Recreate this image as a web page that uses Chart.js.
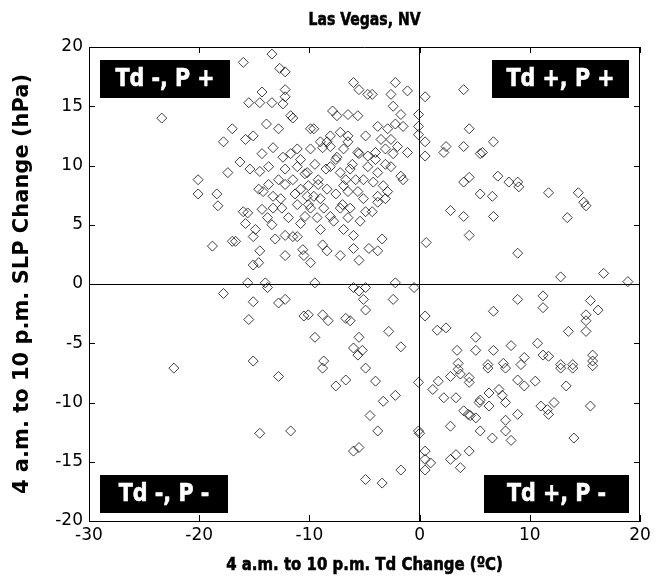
<!DOCTYPE html>
<html>
<head>
<meta charset="utf-8">
<script src="https://cdn.jsdelivr.net/npm/chart.js@4"></script>
<style>
  html, body { margin: 0; padding: 0; background: #fff; }
</style>
</head>
<body>
<canvas id="scatterChart" width="663" height="583"></canvas>
<script>
// 4 a.m. to 10 p.m. changes, Las Vegas NV
const tdChange = [
  -23.4, -17.8, -17.4, -20.1, -20.1, -18.4, -16.0, -13.4, -12.7, -12.2,
  -14.3, -12.2, -15.5, -14.5, -13.4, -12.4, -12.2, -11.7, -11.5, -13.9,
  -12.8, -15.1, -9.9, -9.6, -7.9, -7.5, -6.5, -5.6, -6.0, -5.5,
  -4.7, -11.1, -9.0, -8.1, -7.2, -6.5, -4.9, -8.8, -8.1, -6.9,
  -6.5, -5.6, -4.7, -12.4, -13.7, -14.5, -16.3, -14.2, -13.3, -12.2,
  -11.5, -11.1, -10.2, -10.1, -9.2, -9.6, -8.4, -8.1, -7.5, -7.2,
  -6.3, -5.8, -5.1, -6.5, -5.6, -4.7, -6.9, -10.8, -10.2, -2.2,
  -2.6, -1.1, -2.4, -4.3, -1.7, -3.8, -2.9, -2.2, -1.5, -0.1,
  -0.1, -0.1, -3.5, -2.6, -2.0, -1.1, -2.4, -3.1, -4.0, -4.0,
  -3.1, -2.6, -3.8, -4.2, -3.3, -2.9, -1.7, -1.5, -3.8, -3.1,
  -18.3, -18.8, -17.0, -16.0, -15.6, -13.8, -13.4, -13.3, -12.5, -11.1,
  -10.4, -9.9, -9.3, -8.7, -8.1, -7.2, -6.5, -6.3, -4.9, -16.7,
  -15.1, -14.5, -12.2, -11.5, -11.1, -12.2, -10.6, -10.5, -9.9, -8.8,
  -8.4, -7.2, -6.0, -6.0, -5.5, -4.6, -15.1, -14.6, -15.6, -14.0,
  -9.5, -3.4, -3.8, -2.2,
  -10.8, -10.4, -9.5, -9.2, -8.5, -9.9, -11.7, -12.2, -11.3, -9.0,
  -7.6, -6.7, -6.1, -5.5, -7.6, -8.4, -12.8, -13.7, -14.3, -15.8,
  -14.9, -13.1, -11.9, -10.8, -9.0, -7.8, -6.9, -5.4, -4.3, -3.8,
  -5.1, -7.0, -10.1, -12.6, -14.6, -15.4, -14.3, -13.3, -15.8, -17.0,
  0.5, 0.5, 0.5, 4.0, 4.5, 2.4, 2.2, 4.0, 5.5, 5.7,
  6.7, 4.0, 4.5, 5.5, 6.6, 7.1, 8.1, 8.9, 9.0, 11.7,
  14.4, 15.1, 14.9, 13.4, 8.9, 12.8, 16.7, 18.9, 2.8, 4.0,
  6.7, 4.5, 0.6,
  -17.8, -22.3, -13.8, -6.0, -5.5, -4.9, -5.1, -4.9, -15.1, -12.8,
  -12.2, -15.5, -10.5, -10.1, -8.8, -8.3, -6.7, -6.3, -9.5, -5.5,
  -6.0, -5.2, -5.6, -15.1, -8.7, -0.5, -2.4, -2.8, -1.7, -12.8,
  -8.8, -7.6, -6.7, -4.9, -14.5, -11.7, -6.0, -5.5, -4.9, -4.5,
  -4.0, -3.3, -2.2, -3.8, -1.7, -3.4, -0.1, -0.1, 0.0,
  0.5, 6.7, 1.6, 2.4, 5.1, 5.1, 3.4, 6.7, 8.3, 3.5,
  6.2, 7.6, 8.9, 11.2, 11.2, 15.5, 16.2, 15.1, 15.1, 15.1,
  13.5, 10.7, 11.2, 11.7, 9.5, 15.7, 15.7, 12.8, 13.9, 0.5,
  0.5, 1.0, 0.5, 1.2, 1.7, 2.8, 3.5, 3.7, 4.5, 4.5,
  6.2, 7.8, 2.2, 3.3, 4.0, 4.4, 4.6, 5.1, 5.4, 5.5,
  6.3, 6.3, 7.2, 7.5, 7.8, 2.8, 5.5, 6.6, 7.8, 7.8,
  8.3, 2.8, 3.3, 4.5, 3.7, 9.2, 8.9, 9.5, 10.5, 12.8,
  13.9, 15.7, 13.3, 11.0, 11.6, 11.7, 12.2, 15.5, 8.9, 14.0
];
const slpChange = [
  14.0, 12.0, 9.4, 8.8, 7.6, 7.6, 18.7, 19.4, 18.2, 17.9,
  16.2, 16.4, 15.3, 15.3, 15.3, 15.2, 15.8, 14.2, 14.0, 13.5,
  13.1, 12.5, 13.1, 13.1, 14.6, 14.2, 14.3, 14.2, 17.0, 16.4,
  16.0, 11.4, 12.0, 12.5, 12.8, 12.5, 12.5, 11.5, 11.6, 11.4,
  12.0, 11.1, 10.8, 10.7, 9.9, 9.5, 10.3, 7.8, 7.4, 9.7,
  8.8, 9.9, 9.4, 8.3, 8.8, 7.4, 8.0, 9.9, 10.7, 9.4,
  9.7, 8.8, 8.8, 7.8, 7.8, 9.9, 8.3, 8.0, 7.4, 17.0,
  16.0, 16.3, 15.0, 16.0, 14.3, 13.3, 13.1, 13.5, 13.3, 14.3,
  13.3, 12.6, 12.2, 12.2, 11.6, 11.1, 11.0, 11.4, 11.1, 10.5,
  10.1, 9.9, 9.4, 8.6, 8.3, 7.8, 9.1, 8.8, 7.4, 7.2,
  6.6, 3.2, 3.6, 6.1, 6.0, 5.6, 5.0, 6.4, 6.4, 6.7,
  5.7, 6.4, 5.6, 6.4, 5.7, 6.4, 5.6, 6.4, 6.1, 3.6,
  4.0, 2.8, 4.1, 4.0, 4.0, 2.4, 2.9, 2.4, 1.8, 3.3,
  2.8, 2.4, 4.1, 3.0, 2.0, 3.0, 1.6, 1.8, 0.1, 0.1,
  0.1, 3.8, 2.8, 0.1,
  10.5, 9.3, 10.1, 8.4, 9.7, 11.4, 11.0, 8.4, 7.6, 7.2,
  7.6, 8.8, 10.1, 11.0, 10.5, 12.0, 8.8, 8.4, 6.3, 5.1,
  4.6, 3.8, 5.6, 5.1, 4.6, 5.3, 4.6, 5.3, 6.1, 6.9,
  7.2, 6.7, 6.7, 7.2, 8.0, 9.7, 11.0, 11.5, 12.2, 13.1,
  15.8, 12.0, 10.8, 16.4, 13.1, 11.6, 11.1, 11.6, 11.0, 11.1,
  12.0, 8.6, 9.0, 7.6, 7.4, 9.1, 8.6, 8.6, 8.2, 7.7,
  7.7, 6.6, 6.9, 5.6, 2.6, 0.6, 0.9, 0.2, 6.2, 5.7,
  5.7, 4.1, 3.5,
  -0.8, -7.1, -0.3, -0.3, -0.6, -0.3, -1.3, -2.2, -1.5, -1.6,
  -1.3, -3.0, -2.7, -2.6, -2.6, -3.1, -2.9, -3.1, -4.5, -4.5,
  -5.4, -5.6, -6.0, -6.5, -6.5, -0.3, -1.3, -4.0, -5.3, -7.8,
  -7.1, -8.6, -8.1, -7.1, -12.6, -12.4, -14.1, -13.8, -16.5, -11.1,
  -8.2, -9.9, -9.4, -12.4, -15.7, -16.8, -8.3, -12.4, -12.6,
  -2.7, -2.3, -3.9, -3.7, -4.5, -5.6, -5.6, -5.6, -5.2, -6.7,
  -6.8, -6.7, -1.3, -1.0, -2.0, -1.4, -2.2, -2.6, -3.1, -4.0,
  -4.0, -5.0, -6.0, -6.1, -6.2, -6.0, -6.5, -6.8, -6.8, -14.1,
  -14.8, -15.1, -15.7, -8.9, -8.2, -7.8, -7.2, -7.6, -7.9, -8.3,
  -7.1, -7.1, -9.6, -9.6, -10.7, -11.0, -11.1, -11.3, -10.0, -9.8,
  -9.2, -10.3, -8.9, -9.4, -10.0, -12.0, -12.4, -13.0, -11.5, -12.4,
  -13.2, -14.8, -14.4, -14.1, -15.5, -6.8, -8.1, -8.6, -8.2, -7.1,
  -7.1, -6.9, -8.6, -10.3, -10.6, -11.0, -10.0, -10.3, -11.0, -13.0
];
const xTickValues = [-30, -20, -10, 0, 10, 20];
const yTickValues = [-20, -15, -10, -5, 0, 5, 10, 15, 20];
const quadrantLabels = ['Td -, P +', 'Td +, P +', 'Td -, P -', 'Td +, P -'];
const chartTitle = 'Las Vegas, NV';
const xTitle = '4 a.m. to 10 p.m. Td Change (ºC)';
const yTitle = '4 a.m. to 10 p.m. SLP Change (hPa)';

const points = tdChange.map((x, i) => ({ x: x, y: slpChange[i] }));

// text drawn a bit narrow and heavy, like the squeezed original figure
function narrowText(ctx, text, cx, cy, font, k, color) {
  ctx.save();
  ctx.font = font;
  ctx.textAlign = 'center';
  ctx.textBaseline = 'middle';
  ctx.fillStyle = color;
  ctx.strokeStyle = color;
  ctx.lineWidth = 0.6;
  ctx.translate(cx, cy);
  ctx.scale(k, 1);
  ctx.fillText(text, 0, 0);
  ctx.strokeText(text, 0, 0);
  ctx.restore();
}

// matlab-style frame: top/right border, inward ticks, quadrant tags, titles
const framePlugin = {
  id: 'frame',
  afterDatasetsDraw(chart) {
    const { ctx, chartArea: a, scales: { x, y } } = chart;
    ctx.save();
    ctx.strokeStyle = '#000';
    ctx.lineWidth = 1;
    ctx.beginPath();
    ctx.moveTo(a.left, a.top + 0.5); ctx.lineTo(a.right, a.top + 0.5);
    ctx.moveTo(a.right - 0.5, a.top); ctx.lineTo(a.right - 0.5, a.bottom);
    xTickValues.forEach(v => {
      const px = Math.round(x.getPixelForValue(v)) + 0.5;
      ctx.moveTo(px, a.bottom); ctx.lineTo(px, a.bottom - 6);
      ctx.moveTo(px, a.top); ctx.lineTo(px, a.top + 6);
    });
    yTickValues.forEach(v => {
      const py = Math.round(y.getPixelForValue(v)) + 0.5;
      ctx.moveTo(a.left, py); ctx.lineTo(a.left + 6, py);
      ctx.moveTo(a.right, py); ctx.lineTo(a.right - 6, py);
    });
    ctx.stroke();

    // box corners in data units: [x0, x1, yTop, yBottom]
    const boxes = [
      [-29.0, -17.25, 18.9, 15.7],
      [6.55, 19.0, 18.9, 15.7],
      [-29.0, -17.35, -16.1, -19.3],
      [5.85, 19.0, -16.1, -19.3]
    ];
    quadrantLabels.forEach((t, i) => {
      const b = boxes[i];
      const l = Math.round(x.getPixelForValue(b[0]));
      const r = Math.round(x.getPixelForValue(b[1]));
      const tp = Math.round(y.getPixelForValue(b[2]));
      const bt = Math.round(y.getPixelForValue(b[3]));
      ctx.fillStyle = '#000';
      ctx.fillRect(l, tp, r - l, bt - tp);
      narrowText(ctx, t, (l + r) / 2, (tp + bt) / 2 + 1, 'bold 24px "DejaVu Sans"', 0.86, '#fff');
    });

    const cx = (a.left + a.right) / 2;
    narrowText(ctx, chartTitle, cx, 20, 'bold 18px "DejaVu Sans"', 0.78, '#000');
    narrowText(ctx, xTitle, cx, 565, 'bold 18px "DejaVu Sans"', 0.83, '#000');
    ctx.restore();
  }
};

new Chart(document.getElementById('scatterChart'), {
  type: 'scatter',
  data: {
    datasets: [{
      data: points,
      pointStyle: 'rectRot',
      pointRadius: 5,
      pointHoverRadius: 5,
      borderWidth: 1,
      borderColor: 'rgba(0,0,0,0.75)',
      backgroundColor: 'rgba(0,0,0,0)'
    }]
  },
  options: {
    responsive: false,
    animation: false,
    events: [],
    layout: { padding: { top: 47, right: 23, left: 0, bottom: 0 } },
    plugins: { legend: { display: false }, tooltip: { enabled: false } },
    scales: {
      x: {
        type: 'linear',
        min: -30, max: 20,
        afterBuildTicks: s => { s.ticks = xTickValues.map(v => ({ value: v })); },
        afterFit: s => { s.height = 62; },
        ticks: { color: '#000', font: { family: 'DejaVu Sans', size: 17 }, padding: 4, maxRotation: 0 },
        grid: {
          drawTicks: false,
          color: c => (c.tick && c.tick.value === 0 ? '#000' : 'rgba(0,0,0,0)'),
          lineWidth: 1
        },
        border: { display: true, color: '#000', width: 1 }
      },
      y: {
        type: 'linear',
        min: -20, max: 20,
        afterBuildTicks: s => { s.ticks = yTickValues.map(v => ({ value: v })); },
        afterFit: s => { s.width = 89; },
        ticks: { color: '#000', font: { family: 'DejaVu Sans', size: 17 }, padding: 6 },
        grid: {
          drawTicks: false,
          color: c => (c.tick && c.tick.value === 0 ? '#000' : 'rgba(0,0,0,0)'),
          lineWidth: 1
        },
        border: { display: true, color: '#000', width: 1 },
        title: {
          display: true,
          text: yTitle,
          color: '#000',
          font: { family: 'DejaVu Sans', size: 21, weight: 'bold' },
          padding: { top: 10, bottom: 0 }
        }
      }
    }
  },
  plugins: [framePlugin]
});
</script>
</body>
</html>
